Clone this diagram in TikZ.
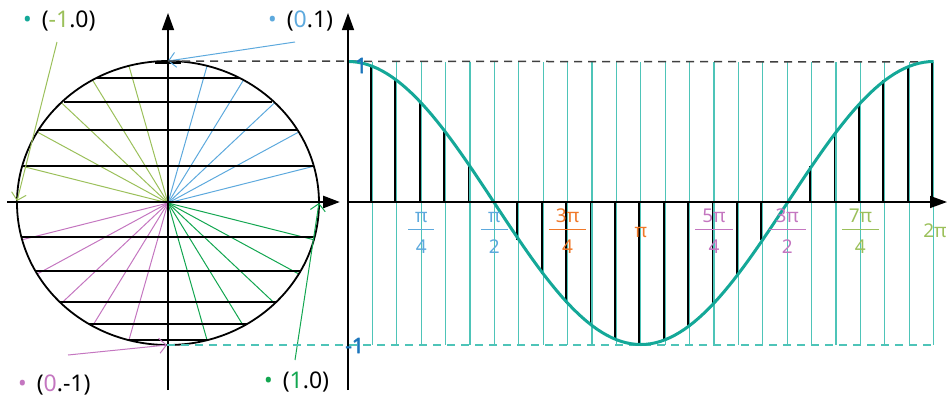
\documentclass[tikz,border=0pt]{standalone}
\usepackage{fontspec}
\setmainfont{Noto Sans}
\newfontfamily\heavyface{Noto Sans}[FakeBold=2.5]
\usepackage{xcolor}
\usepackage{tikz}
\usetikzlibrary{arrows.meta,backgrounds}
\pgfdeclarelayer{edgelayer}
\pgfdeclarelayer{nodelayer}
\pgfsetlayers{background,edgelayer,nodelayer,main}
\definecolor{tealc}{RGB}{20,168,152}
\definecolor{tealline}{RGB}{78,196,184}
\definecolor{skyc}{RGB}{93,169,221}
\definecolor{olivec}{RGB}{155,192,90}
\definecolor{plumc}{RGB}{196,118,192}
\definecolor{greenc}{RGB}{18,166,80}
\definecolor{orangec}{RGB}{240,120,40}
\definecolor{bluec}{RGB}{27,117,188}
\setlength{\arrayrulewidth}{1pt}
\newcommand{\piratio}[2]{\begin{tabular}{@{\hspace{7pt}}c@{\hspace{7pt}}}#1\\\hline\rule{0pt}{24pt}#2\end{tabular}}
\tikzstyle{none}=[inner sep=0mm]
\tikzstyle{axis}=[draw=black, line width=1.4pt, -{Triangle[length=17pt,width=12pt]}]
\tikzstyle{chord}=[draw=black, line width=2.8pt]
\tikzstyle{spoke}=[line width=1pt]
\tikzstyle{pointer}=[line width=1pt, -{Straight Barb[length=7pt,width=15pt]}]
\tikzstyle{pointlabel}=[inner sep=0mm, anchor=west, font=\fontsize{23}{27}\selectfont]
\tikzstyle{tick}=[inner sep=0mm, font=\fontsize{19}{21}\selectfont]
\tikzstyle{bound}=[inner sep=0mm, anchor=base west, text=bluec, font=\heavyface\fontsize{21}{23}\selectfont]
\tikzstyle{guide}=[line width=1.5pt, dash pattern=on 8pt off 6pt]
\tikzstyle{sample}=[draw=tealline, line width=1.1pt]
\tikzstyle{bar}=[draw=black, line width=2.8pt]
\tikzstyle{wave}=[draw=tealc, line width=3pt]

\begin{document}
\begin{tikzpicture}[x=1pt, y=-1pt]
	\useasboundingbox (0,0) rectangle (948,397);
	\begin{pgfonlayer}{nodelayer}
		\node [style=none] (0) at (168, 203) {};
		\node [style=pointlabel] (1) at (23, 21) {\textcolor{tealc}{•}\hspace{4pt} (\textcolor{olivec}{-1}.0)};
		\node [style=pointlabel] (2) at (268, 21) {\textcolor{skyc}{•}\hspace{4pt} (\textcolor{skyc}{0}.1)};
		\node [style=pointlabel] (3) at (18, 385) {\textcolor{plumc}{•}\hspace{4pt} (\textcolor{plumc}{0}.-1)};
		\node [style=pointlabel] (4) at (264, 382) {\textcolor{greenc}{•}\hspace{4pt} (\textcolor{greenc}{1}.0)};
		\node [style=none] (5) at (57, 42) {};
		\node [style=none] (6) at (17, 201) {};
		\node [style=none] (7) at (295, 42) {};
		\node [style=none] (8) at (168, 61) {};
		\node [style=none] (9) at (68, 355) {};
		\node [style=none] (10) at (167, 345) {};
		\node [style=none] (11) at (295, 360) {};
		\node [style=none] (12) at (319, 203) {};
		\node [style=none] (13) at (168, 390) {};
		\node [style=none] (14) at (168, 13) {};
		\node [style=none] (15) at (7, 202) {};
		\node [style=none] (16) at (340, 202) {};
		\node [style=none] (17) at (348, 390) {};
		\node [style=none] (18) at (348, 13) {};
		\node [style=none] (19) at (348, 202) {};
		\node [style=none] (20) at (947, 202) {};
		\node [style=none] (21) at (934, 62) {};
		\node [style=none] (22) at (934, 345) {};
		\node [style=bound] (23) at (355, 73) {1};
		\node [style=bound] (24) at (345, 353) {-1};
		\node [style=tick, text=skyc] (25) at (421.2, 234) {\piratio{π}{4}};
		\node [style=tick, text=skyc] (26) at (494.4, 234) {\piratio{π}{2}};
		\node [style=tick, text=orangec] (27) at (567.6, 234) {\piratio{3π}{4}};
		\node [style=tick, text=orangec, anchor=base] (28) at (640.8, 237) {π};
		\node [style=tick, text=plumc] (29) at (714, 234) {\piratio{5π}{4}};
		\node [style=tick, text=plumc] (30) at (787.2, 234) {\piratio{3π}{2}};
		\node [style=tick, text=olivec] (31) at (860.4, 234) {\piratio{7π}{4}};
		\node [style=tick, text=olivec, anchor=base] (32) at (935, 237) {2π};
	\end{pgfonlayer}
	\begin{pgfonlayer}{edgelayer}
		% unit circle
		\foreach \a in {15,30,...,75}
			\draw [style=spoke, draw=skyc] (0.center) to ({168+151*cos(\a)}, {203-142*sin(\a)});
		\foreach \a in {105,120,...,165}
			\draw [style=spoke, draw=olivec] (0.center) to ({168+151*cos(\a)}, {203-142*sin(\a)});
		\foreach \a in {195,210,...,255}
			\draw [style=spoke, draw=plumc] (0.center) to ({168+151*cos(\a)}, {203-142*sin(\a)});
		\foreach \a in {285,300,...,345}
			\draw [style=spoke, draw=greenc] (0.center) to ({168+151*cos(\a)}, {203-142*sin(\a)});
		\foreach \y/\w in {63/13, 78/72, 102/104, 130/130, 166/146, 237/147, 271/133, 302/108, 324/79, 340/40}
			\draw [style=chord] ({168-\w}, \y) to ({168+\w}, \y);
		\draw [line width=1.8pt] (0.center) ellipse [x radius=151pt, y radius=142pt];
		\draw [style=axis] (13.center) to (14.center);
		\draw [style=axis, line width=2.8pt] (15.center) to (16.center);
		\draw [style=pointer, draw=olivec] (5.center) to (6.center);
		\draw [style=pointer, draw=skyc] (7.center) to (8.center);
		\draw [style=pointer, draw=plumc] (9.center) to (10.center);
		\draw [style=pointer, draw=greenc] (11.center) to (12.center);
		% cosine samples
		\foreach \k in {1,...,24}
			\draw [style=bar] ({347+24.4*\k}, 202) to ({347+24.4*\k}, {203-141.5*cos(15*\k)});
		\foreach \k in {1,...,24}
			\draw [style=sample] ({348+24.4*\k}, 62) to ({348+24.4*\k}, 345);
		\draw [style=guide, draw=black!75] (8.center) to (21.center);
		\draw [style=guide, draw=tealline] (10.center) to (22.center);
		\draw [style=wave] plot [domain=0:360, samples=121] ({348+\x*1.62667}, {203-141.5*cos(\x)});
		\draw [style=axis] (17.center) to (18.center);
		\draw [style=axis] (19.center) to (20.center);
	\end{pgfonlayer}
\end{tikzpicture}
\end{document}
